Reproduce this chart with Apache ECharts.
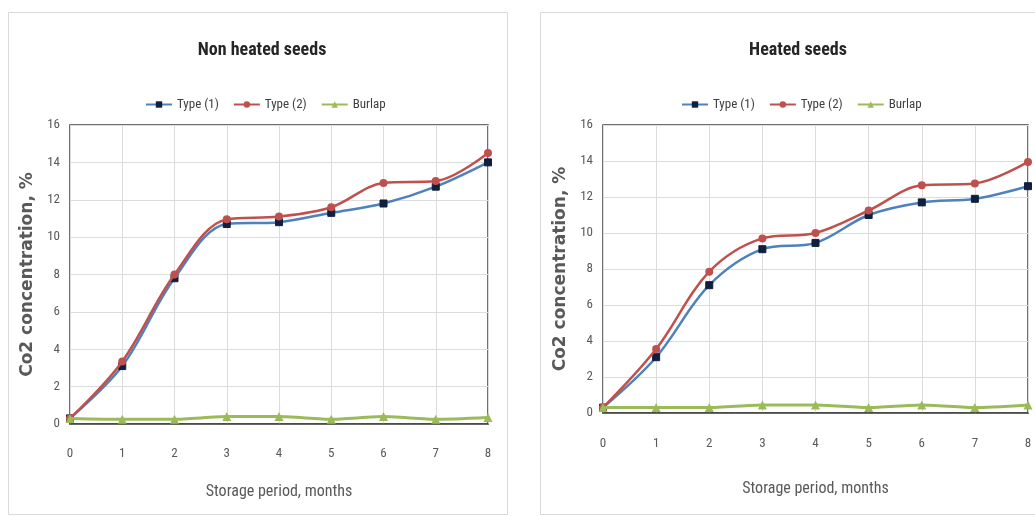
<!DOCTYPE html>
<html><head><meta charset="utf-8">
<script src="https://cdn.jsdelivr.net/npm/echarts@6/dist/echarts.min.js"></script>
<style>html,body{margin:0;padding:0;background:#fff}#c{width:1035px;height:516px}</style>
</head><body><div id="c"></div>
<script>
const months = ['0','1','2','3','4','5','6','7','8'];
const yTicks = [0,2,4,6,8,10,12,14,16];
const titles = ['Non heated seeds','Heated seeds'];
const seriesNames = ['Type (1)','Type (2)','Burlap'];
const nonHeatedType1 = [0.3,3.1,7.8,10.7,10.8,11.3,11.8,12.7,14.0];
const nonHeatedType2 = [0.3,3.35,8.0,10.95,11.1,11.6,12.9,13.0,14.5];
const nonHeatedBurlap = [0.3,0.25,0.25,0.4,0.4,0.25,0.4,0.25,0.35];
const heatedType1 = [0.3,3.1,7.1,9.1,9.45,11.0,11.7,11.9,12.6];
const heatedType2 = [0.3,3.55,7.85,9.7,10.0,11.25,12.65,12.75,13.95];
const heatedBurlap = [0.3,0.3,0.3,0.45,0.45,0.3,0.45,0.3,0.45];

const NARROW = '"Liberation Sans Narrow","Arial Narrow","Roboto Condensed",Roboto,sans-serif';
const colors = {t1:'#4f81bd', t1m:'#0f1f3d', t2:'#c0504d', b:'#9bbb59'};
const chart = echarts.init(document.getElementById('c'), null, {renderer:'canvas'});

const grids = [
  {left:70, right:547, top:125, bottom:92},
  {left:603, right:7, top:125, bottom:103}
];
function mkSeries(idx, t1, t2, b){
  return [
    {name:seriesNames[0], type:'line', xAxisIndex:idx, yAxisIndex:idx, data:t1, smooth:0.35,
     symbol:'rect', symbolSize:7, lineStyle:{color:colors.t1,width:2.5}, itemStyle:{color:colors.t1m, borderColor:colors.t1m}, z:3},
    {name:seriesNames[1], type:'line', xAxisIndex:idx, yAxisIndex:idx, data:t2, smooth:0.35,
     symbol:'circle', symbolSize:8, lineStyle:{color:colors.t2,width:2.5}, itemStyle:{color:colors.t2}, z:4},
    {name:seriesNames[2], type:'line', xAxisIndex:idx, yAxisIndex:idx, data:b, smooth:0.2,
     symbol:'triangle', symbolSize:9, lineStyle:{color:colors.b,width:3}, itemStyle:{color:colors.b}, z:5}
  ];
}
function xAx(idx, gap, margin){
  return {type:'category', gridIndex:idx, data:months, boundaryGap:false,
    axisLine:{show:true, lineStyle:{color:'#404040', width:1.5}}, axisTick:{show:false},
    axisLabel:{color:'#595959', fontFamily:NARROW, fontSize:13, margin:margin},
    splitLine:{show:true, lineStyle:{color:'#dcdcdc', width:1}},
    name:'Storage period, months', nameLocation:'middle', nameGap:gap,
    nameTextStyle:{color:'#595959', fontFamily:NARROW, fontSize:16}};
}
function yAx(idx, gap){
  return {type:'value', gridIndex:idx, min:0, max:16, interval:2,
    axisLine:{show:false}, axisTick:{show:false},
    axisLabel:{color:'#595959', fontFamily:NARROW, fontSize:13, margin:10},
    splitLine:{show:true, lineStyle:{color:'#dcdcdc', width:1}},
    name:'Co2 concentration, %', nameLocation:'middle', nameGap:gap,
    nameTextStyle:{color:'#595959', fontFamily:'"DejaVu Sans",Verdana,sans-serif', fontWeight:'bold', fontSize:17}};
}
const legendBase = {data:seriesNames.map(n=>({name:n})), top:93, itemWidth:26, itemHeight:8, itemGap:14,
     textStyle:{color:'#404040', fontFamily:NARROW, fontSize:13}};
const option = {
  backgroundColor:'#fff',
  animation:false,
  graphic:[
    {type:'rect', shape:{x:8.5,y:12.5,width:499,height:502}, style:{fill:'#fff', stroke:'#d9d9d9', lineWidth:1}, z:-10},
    {type:'rect', shape:{x:540.5,y:12.5,width:500,height:502}, style:{fill:'#fff', stroke:'#d9d9d9', lineWidth:1}, z:-10}
  ],
  title:[
    {text:titles[0], left:257, top:36, textAlign:'center', textStyle:{fontFamily:NARROW, fontSize:18, fontWeight:'bold', color:'#262626'}},
    {text:titles[1], left:793, top:36, textAlign:'center', textStyle:{fontFamily:NARROW, fontSize:18, fontWeight:'bold', color:'#262626'}}
  ],
  legend:[Object.assign({}, legendBase, {left:140}), Object.assign({}, legendBase, {left:676})],
  grid:grids.map(g=>Object.assign({show:true, borderColor:'#404040', borderWidth:1.5, backgroundColor:'#fff'}, g)),
  xAxis:[xAx(0,60,23), xAx(1,68,24)],
  yAxis:[yAx(0,34), yAx(1,34)],
  series:[...mkSeries(0,nonHeatedType1,nonHeatedType2,nonHeatedBurlap), ...mkSeries(1,heatedType1,heatedType2,heatedBurlap)]
};
chart.setOption(option);
</script></body></html>
